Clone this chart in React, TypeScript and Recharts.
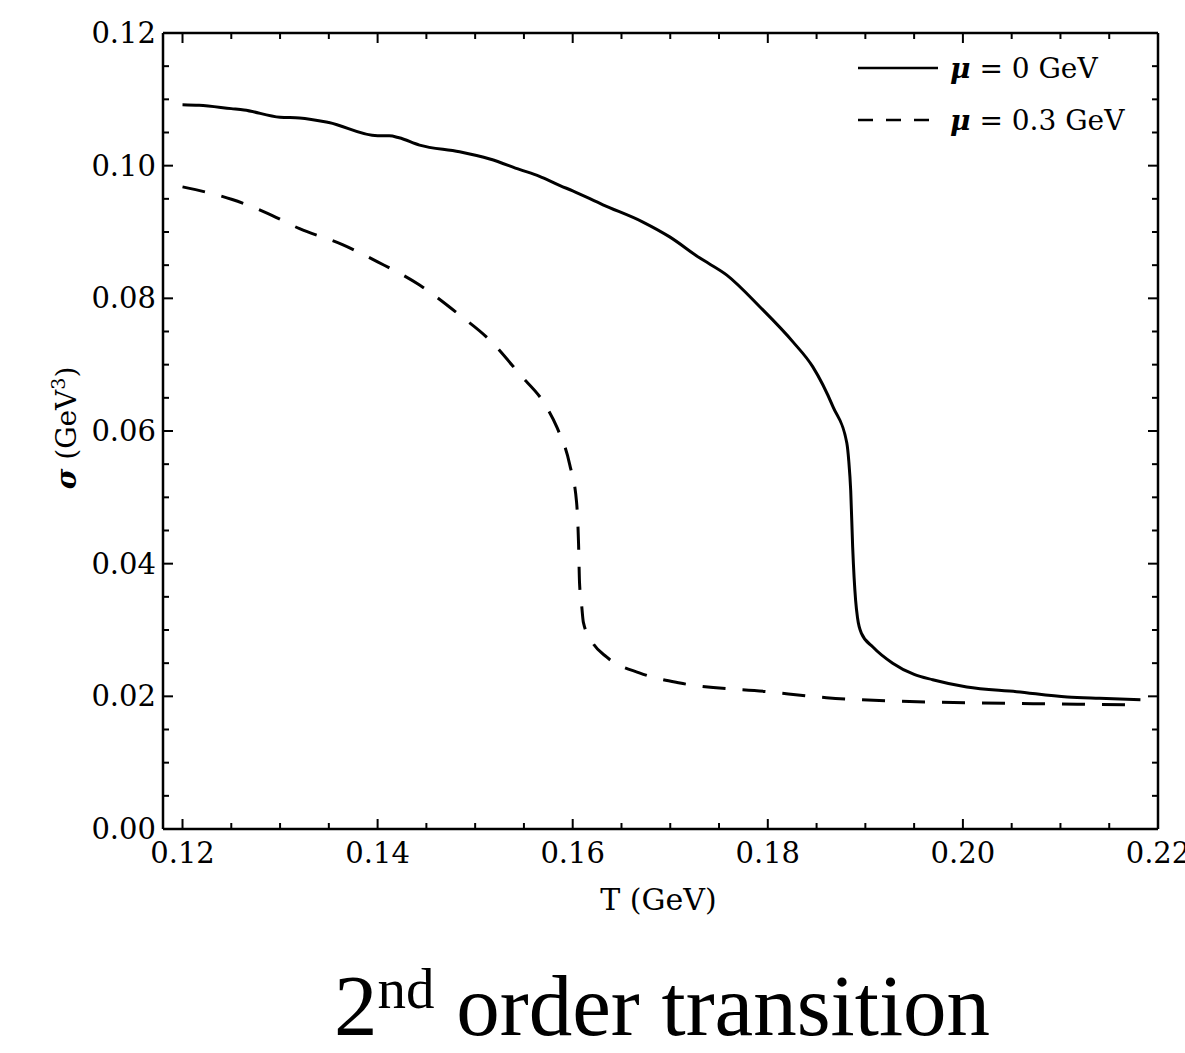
import { LineChart, Line, XAxis, YAxis } from 'recharts';

// mu = 0 GeV curve
const mu0T = [
  0.12, 0.1217, 0.125, 0.1263, 0.13, 0.132, 0.135, 0.14, 0.1412, 0.1422, 0.1443, 0.1484, 0.1515,
  0.1546, 0.1566, 0.1587, 0.16, 0.1631, 0.1672, 0.1699, 0.173, 0.1758, 0.1792, 0.1826, 0.1846,
  0.1867, 0.1881, 0.1883, 0.1885, 0.1887, 0.189, 0.1892, 0.1896, 0.1908, 0.1928, 0.195, 0.1969,
  0.2004, 0.2055, 0.2107, 0.214, 0.2182,
];
const mu0Sigma = [
  0.1092, 0.1091, 0.1086, 0.1084, 0.1073, 0.1072, 0.1065, 0.1045, 0.1045, 0.1042, 0.1031, 0.1021,
  0.101, 0.0994, 0.0984, 0.097, 0.0962, 0.0941, 0.0915, 0.0893, 0.0861, 0.0835, 0.0787, 0.0734,
  0.0697, 0.0636, 0.0582, 0.0555, 0.051, 0.0425, 0.0345, 0.0318, 0.0295, 0.0274, 0.025, 0.0233,
  0.0225, 0.0214, 0.0207, 0.0199, 0.0197, 0.0195,
];

// mu = 0.3 GeV curve
const mu03T = [
  0.12, 0.1251, 0.1286, 0.132, 0.1364, 0.14, 0.1443, 0.1484, 0.1515, 0.1546, 0.1572, 0.1584,
  0.1597, 0.1604, 0.1606, 0.1607, 0.1609, 0.1611, 0.162, 0.1635, 0.1669, 0.171, 0.18, 0.186,
  0.1953, 0.2072, 0.2182,
];
const mu03Sigma = [
  0.0968, 0.0949, 0.0929, 0.0905, 0.0881, 0.0855, 0.082, 0.0775, 0.0737, 0.0685, 0.0639, 0.0605,
  0.0549, 0.0492, 0.043, 0.0371, 0.034, 0.0311, 0.0282, 0.0259, 0.0235, 0.022, 0.0207, 0.0198,
  0.0192, 0.0189, 0.0187,
];

const xMajor = [0.12, 0.14, 0.16, 0.18, 0.2, 0.22];
const xMinor = [
  0.125, 0.13, 0.135, 0.145, 0.15, 0.155, 0.165, 0.17, 0.175, 0.185, 0.19, 0.195, 0.205, 0.21, 0.215,
];
const yMajor = [0, 0.02, 0.04, 0.06, 0.08, 0.1, 0.12];
const yMinor = [
  0.005, 0.01, 0.015, 0.025, 0.03, 0.035, 0.045, 0.05, 0.055, 0.065, 0.07, 0.075, 0.085, 0.09,
  0.095, 0.105, 0.11, 0.115,
];

const mu0Data = mu0T.map((t, i) => ({ t, s: mu0Sigma[i] }));
const mu03Data = mu03T.map((t, i) => ({ t, s: mu03Sigma[i] }));
const xTicks = [...xMajor, ...xMinor].sort((a, b) => a - b);
const yTicks = [...yMajor, ...yMinor].sort((a, b) => a - b);

const FONT = '"DejaVu Serif", serif';
const isMajor = (v: number, list: number[]) => list.some((m) => Math.abs(m - v) < 1e-9);

function BottomTick(props: any) {
  const { x, y, payload } = props;
  const major = isMajor(payload.value, xMajor);
  return (
    <g>
      <line x1={x} y1={y} x2={x} y2={y - (major ? 10 : 6)} stroke="#000" strokeWidth={2} />
      {major && (
        <text x={x} y={y + 34} textAnchor="middle" fontFamily={FONT} fontSize={29} fill="#000">
          {payload.value.toFixed(2)}
        </text>
      )}
    </g>
  );
}

function TopTick(props: any) {
  const { x, y, payload } = props;
  const major = isMajor(payload.value, xMajor);
  return <line x1={x} y1={y} x2={x} y2={y + (major ? 10 : 6)} stroke="#000" strokeWidth={2} />;
}

function LeftTick(props: any) {
  const { x, y, payload } = props;
  const major = isMajor(payload.value, yMajor);
  return (
    <g>
      <line x1={x} y1={y} x2={x + (major ? 10 : 6)} y2={y} stroke="#000" strokeWidth={2} />
      {major && (
        <text x={x - 7} y={y + 10} textAnchor="end" fontFamily={FONT} fontSize={29} fill="#000">
          {payload.value.toFixed(2)}
        </text>
      )}
    </g>
  );
}

function RightTick(props: any) {
  const { x, y, payload } = props;
  const major = isMajor(payload.value, yMajor);
  return <line x1={x} y1={y} x2={x - (major ? 10 : 6)} y2={y} stroke="#000" strokeWidth={2} />;
}

function XTitle(props: any) {
  const vb = props.viewBox;
  return (
    <text x={vb.x + vb.width / 2 - 2} y={vb.y + 81} textAnchor="middle" fontFamily={FONT} fontSize={30} fill="#000">
      T (GeV)
    </text>
  );
}

function YTitle(props: any) {
  const vb = props.viewBox;
  const cx = vb.x + 76;
  const cy = vb.y + 395;
  return (
    <text x={cx} y={cy} transform={`rotate(-90 ${cx} ${cy})`} textAnchor="middle" fontFamily={FONT} fontSize={28} fill="#000">
      <tspan fontWeight="bold" fontStyle="italic">σ</tspan>
      <tspan> (GeV</tspan>
      <tspan fontSize={19} dy={-11}>3</tspan>
      <tspan dy={11}>)</tspan>
    </text>
  );
}

const legendRows = [
  { label: '0', dash: undefined },
  { label: '0.3', dash: '15 13' },
];

function ChartLegend() {
  return (
    <div style={{ position: 'absolute', top: 42, left: 858, fontFamily: FONT, fontSize: 28, color: '#000' }}>
      {legendRows.map((r) => (
        <div key={r.label} style={{ display: 'flex', alignItems: 'center', height: 52 }}>
          <svg width={80} height={10} style={{ marginRight: 12 }}>
            <line x1={0} y1={5} x2={80} y2={5} stroke="#000" strokeWidth={2.5} strokeDasharray={r.dash} />
          </svg>
          <span style={{ whiteSpace: 'nowrap' }}>
            <b><i>μ</i></b> = {r.label} GeV
          </span>
        </div>
      ))}
    </div>
  );
}

const axisLine = { stroke: '#000', strokeWidth: 2.5 };

export default function App() {
  return (
    <div style={{ position: 'absolute', left: 0, top: 0, width: 1185, height: 1053, background: '#fff' }}>
      <LineChart width={1185} height={1053} margin={{ top: 32, right: 26, bottom: 144, left: 0 }}>
        <XAxis
          xAxisId="b"
          type="number"
          dataKey="t"
          domain={[0.118, 0.22]}
          allowDataOverflow
          ticks={xTicks}
          interval={0}
          height={80}
          tickLine={false}
          tickSize={0}
          tickMargin={0}
          axisLine={axisLine}
          tick={<BottomTick />}
          label={<XTitle />}
        />
        <XAxis
          xAxisId="t"
          orientation="top"
          type="number"
          dataKey="t"
          domain={[0.118, 0.22]}
          allowDataOverflow
          ticks={xTicks}
          interval={0}
          height={1}
          tickLine={false}
          tickSize={0}
          tickMargin={0}
          axisLine={axisLine}
          tick={<TopTick />}
        />
        <YAxis
          yAxisId="l"
          type="number"
          domain={[0, 0.12]}
          allowDataOverflow
          ticks={yTicks}
          interval={0}
          width={163}
          tickLine={false}
          tickSize={0}
          tickMargin={0}
          axisLine={axisLine}
          tick={<LeftTick />}
          label={<YTitle />}
        />
        <YAxis
          yAxisId="r"
          orientation="right"
          type="number"
          domain={[0, 0.12]}
          allowDataOverflow
          ticks={yTicks}
          interval={0}
          width={1}
          tickLine={false}
          tickSize={0}
          tickMargin={0}
          axisLine={axisLine}
          tick={<RightTick />}
        />
        <Line
          xAxisId="b"
          yAxisId="l"
          data={mu0Data}
          dataKey="s"
          name="μ = 0 GeV"
          type="monotone"
          stroke="#000"
          strokeWidth={3}
          dot={false}
          activeDot={false}
          isAnimationActive={false}
        />
        <Line
          xAxisId="b"
          yAxisId="l"
          data={mu03Data}
          dataKey="s"
          name="μ = 0.3 GeV"
          type="monotone"
          stroke="#000"
          strokeWidth={3}
          strokeDasharray="23 17"
          dot={false}
          activeDot={false}
          isAnimationActive={false}
        />
      </LineChart>
      <ChartLegend />
      <svg width={1185} height={1053} style={{ position: 'absolute', left: 0, top: 0, pointerEvents: 'none' }}>
        <text x={662} y={1035} textAnchor="middle" fontFamily='"Liberation Serif", serif' fontSize={87} fill="#000">
          2<tspan fontSize={57} dy={-27}>nd</tspan>
          <tspan dy={27}> order transition</tspan>
        </text>
      </svg>
    </div>
  );
}
